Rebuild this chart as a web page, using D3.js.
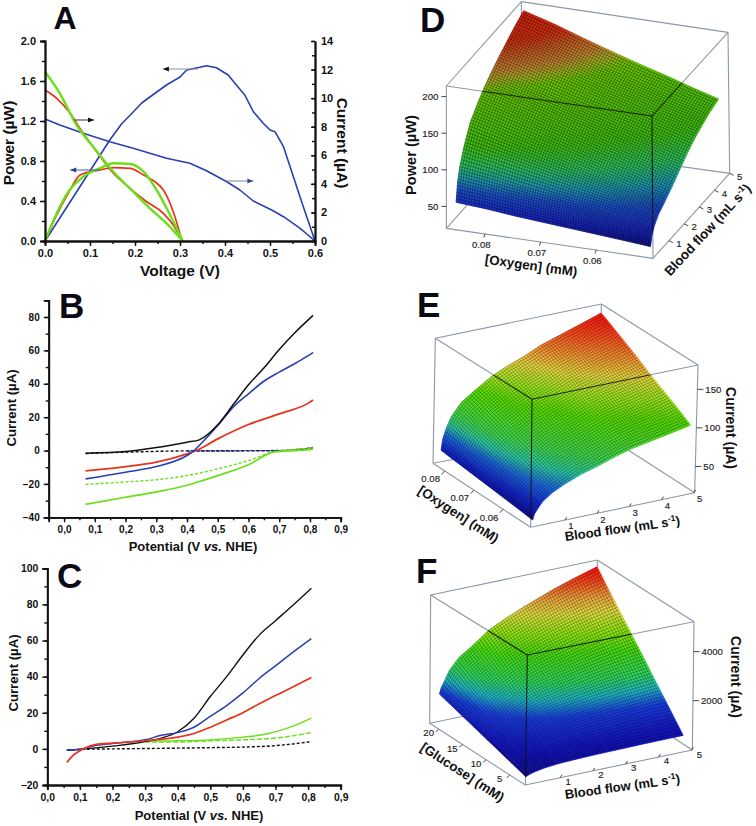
<!DOCTYPE html>
<html><head><meta charset="utf-8">
<script src="https://cdn.jsdelivr.net/npm/d3@7/dist/d3.min.js"></script>
<style>html,body{margin:0;padding:0;background:#fff}svg{display:block}text{font-family:"Liberation Sans",Arial,sans-serif}</style>
</head><body><svg id="c" width="756" height="826"></svg>
<script>
// ---- Panel A (voltage V, power uW / current uA) ----
const aPowerBlue=[[0,0],[.05,.35],[.1,.7],[.144,1.01],[.17,1.17],[.196,1.29],[.215,1.38],[.233,1.44],[.27,1.56],[.3,1.64],[.315,1.71],[.344,1.737],[.359,1.753],[.381,1.733],[.407,1.66],[.422,1.577],[.444,1.46],[.463,1.293],[.485,1.177],[.5,1.11],[.511,1.093],[.53,.943],[.552,.643],[.574,.343],[.6,0]];
const aCurrentBlue=[[0,8.54],[.033,8.12],[.085,7.54],[.144,6.95],[.196,6.49],[.27,5.79],[.322,5.44],[.359,4.92],[.404,4.15],[.433,3.57],[.463,2.8],[.507,2.12],[.53,1.7],[.567,.89],[.6,0]];
const aCurrentRed=[[0,10.57],[.026,9.99],[.056,8.94],[.085,7.54],[.115,6.25],[.152,4.74],[.189,3.69],[.226,2.75],[.263,1.94],[.285,1.12],[.304,.07]];
const aCurrentGreen=[[0,11.85],[.033,10.34],[.07,8.12],[.107,6.6],[.152,4.85],[.196,3.45],[.233,2.29],[.27,1.24],[.306,0]];
const aPowerRed=[[0,0],[.026,.26],[.052,.48],[.078,.66],[.122,.71],[.152,.733],[.189,.727],[.219,.66],[.244,.593],[.263,.51],[.281,.343],[.304,.01]];
const aPowerGreen=[[0,0],[.026,.277],[.052,.493],[.085,.643],[.122,.727],[.152,.777],[.189,.77],[.219,.693],[.248,.51],[.278,.26],[.306,0]];
// arrows: tip voltage, tail voltage, power level, head colour, shaft colour
const aArrows=[[.262,.34,1.72,'#111','#8a93a0'],[.109,.065,1.21,'#111','#333'],[.056,.122,.71,'#2a3a9a','#4a5ab0'],[.463,.404,.6,'#3a4a8a','#7a8aa0']];
// ---- Panel B (potential V, current uA) ----
const bBlack=[[.07,-1.6],[.2,-.6],[.3,1.8],[.4,5],[.44,6.4],[.5,15.4],[.55,27.4],[.6,39.4],[.65,49.4],[.7,60.5],[.75,70.4],[.81,81]];
const bBlue=[[.07,-17],[.2,-13],[.3,-9.6],[.4,-3],[.42,-.5],[.45,5],[.5,15],[.55,26],[.6,34],[.65,41.5],[.7,47],[.75,52],[.81,58.7]];
const bRed=[[.07,-12.2],[.2,-9.7],[.3,-7],[.4,-2],[.43,0],[.5,7],[.6,15.6],[.7,22],[.8,29],[.81,30.3]];
const bGreen=[[.07,-32.3],[.2,-28],[.3,-24.8],[.4,-20.8],[.45,-18],[.5,-15],[.6,-8.5],[.68,-1],[.7,-.5],[.8,.5],[.81,1]];
const bGreenDash=[[.07,-20.3],[.2,-18.8],[.3,-17.5],[.4,-15],[.5,-11],[.6,-6],[.67,-1.5],[.7,-.5],[.81,1.5]];
const bBlackDash=[[.07,-1.8],[.2,-1],[.3,-.5],[.4,-.2],[.7,0],[.81,1.5]];
const bBlueDash=[[.4,-.3],[.7,-.1],[.81,1.8]];
// ---- Panel C ----
const cBlack=[[.06,-.8],[.1,-.3],[.2,1.5],[.3,4],[.35,6],[.4,9.5],[.45,17],[.5,29],[.55,40],[.6,52],[.65,63],[.7,71],[.75,79],[.81,89]];
const cBlue=[[.06,-.6],[.1,-.2],[.15,2],[.2,3],[.3,5],[.35,7.5],[.4,9],[.45,12],[.5,18],[.55,24],[.6,31],[.65,39],[.7,46],[.75,53],[.81,61]];
const cRed=[[.06,-7.5],[.08,-3.5],[.1,-1],[.13,1.5],[.15,2.5],[.2,3.2],[.3,4.5],[.4,6.5],[.45,8.5],[.5,12],[.55,16],[.6,20],[.65,25],[.7,29.5],[.75,34],[.81,39.5]];
const cGreen=[[.28,4.5],[.3,4.3],[.4,4.5],[.5,5],[.6,6.5],[.68,8.5],[.72,10.5],[.76,13],[.81,17]];
const cGreenDash=[[.3,3.8],[.4,3.8],[.5,4.5],[.6,5],[.7,6],[.81,9]];
const cBlackDash=[[.06,-.6],[.1,-.3],[.2,0],[.3,.2],[.4,.4],[.5,.7],[.6,1],[.7,1.8],[.81,4]];
// ---- Panel D surface: rows by blood flow, columns by oxygen ----
const dFlow=[.05,.15,.3,.6,1,1.5,2,2.5,3,3.5,4,4.6];
const dOxygen=[.0855,.08,.075,.07,.065,.06,.055,.0505];
const dPower=[[55,52,48,45,42,39,36,33],[80,75,70,65,60,55,50,46],[98,92,85,79,73,67,61,55],[120,112,104,96,88,80,72,65],[142,131,121,111,101,91,81,72],[157,146,135,124,113,103,92,82],[170,158,147,136,125,114,103,93],[180,168,157,146,136,125,114,104],[189,178,167,156,145,134,123,113],[197,186,175,163,152,141,130,120],[205,193,181,169,158,147,136,126],[213,201,188,176,164,153,141,131]];
const dStops=[30,50,70,85,100,120,165,172,178,190,196,214];
const dColors=['#10108a','#1a28c8','#1c50d0','#1f9ab0','#2ec060','#40c010','#68c800','#a0b020','#c08830','#c85020','#d03010','#d02008'];
// ---- Panel E surface ----
const eFlow=[0,.05,.15,.3,.6,1,1.5,2,2.5,3,3.5,4,4.5,4.85];
const eOxygen=[.082,.08,.075,.07,.065,.06,.055,.0505];
const eCurrent=[[38,37,35,33,31,29,27,25],[53,52,49,45,42,39,35,32],[66,65,60,56,51,47,42,38],[80,78,73,67,62,57,51,46],[96,94,87,81,74,68,61,55],[108,106,99,91,84,77,70,63],[122,119,111,103,95,87,79,71],[132,129,120,112,103,94,85,77],[140,137,128,119,110,101,92,84],[150,147,137,128,118,109,99,90],[157,154,144,134,124,114,104,94],[164,161,150,140,129,118,108,98],[171,168,156,145,134,123,112,102],[176,172,161,150,138,127,116,105]];
const eStops=[25,42,58,70,82,108,122,135,148,160,172,178];
const eColors=['#0e0ea0','#1428d8','#1c68e0','#2cc8a8','#40d850','#58e000','#a0e820','#e8d840','#f89030','#ff5020','#ff2010','#ff1808'];
// ---- Panel F surface ----
const fFlow=[0,.05,.15,.3,.6,1,1.5,2,2.5,3,3.5,4,4.5,4.79];
const fGlucose=[20.3,17.5,15,12.5,10,7.5,5,2];
const fCurrent=[[1360,1190,1041,890,740,590,440,260],[1600,1399,1223,1045,867,690,513,300],[1850,1618,1415,1210,1004,800,596,350],[2250,1963,1714,1460,1207,955,703,400],[2700,2354,2053,1748,1442,1139,836,470],[3050,2658,2316,1970,1623,1279,935,520],[3560,3093,2687,2275,1862,1453,1044,550],[3880,3367,2920,2467,2013,1563,1113,570],[4170,3614,3129,2637,2145,1657,1169,580],[4430,3835,3316,2790,2264,1742,1220,590],[4680,4048,3497,2938,2379,1824,1269,600],[4900,4234,3655,3066,2478,1894,1309,605],[5100,4404,3798,3183,2568,1957,1346,610],[5210,4497,3875,3246,2617,1991,1366,612]];
const fStops=[260,800,1500,1900,2300,3000,3500,4000,4400,4800,5100,5220];
const fColors=['#0e0ea0','#1414c8','#1a40e8','#20b8c8','#30d860','#48e010','#90e810','#e0e040','#f0a840','#f85020','#ff2010','#ff1810'];

const svg=d3.select('#c');
const BLUE='#2a3fb0',RED='#e8331a',GREEN='#6be01a',BLACK='#111';

function letter(t,x,y,s){svg.append('text').attr('x',x).attr('y',y).attr('font-size',s).attr('font-weight','bold').attr('fill','#0a0a14').text(t);}
function label(t,x,y,s,rot){
 const n=svg.append('text').attr('transform',`translate(${x},${y}) rotate(${rot})`).attr('text-anchor','middle').attr('font-size',s).attr('font-weight','bold').attr('fill','#111');
 (Array.isArray(t)?t:[t]).forEach(p=>{ if(typeof p==='string')n.append('tspan').text(p); else {const sp=n.append('tspan').text(p.t); if(p.i)sp.attr('font-style','italic'); if(p.sup)sp.attr('dy',-5).attr('font-size',s*.65); if(p.back)sp.attr('dy',5);} });
}
function styleAxis(g,fs){g.selectAll('path,line').attr('stroke','#111').attr('stroke-width',1.4);g.selectAll('path').attr('stroke-width',1.8);
 g.selectAll('text').attr('font-size',fs).attr('font-weight','bold').attr('fill','#111').attr('font-family','"Liberation Sans",Arial,sans-serif');}
function draw(g,data,x,y,col,w,dash,curve){g.append('path').datum(data).attr('fill','none').attr('stroke',col).attr('stroke-width',w).attr('stroke-linejoin','round').attr('stroke-dasharray',dash||null).attr('d',d3.line().x(d=>x(d[0])).y(d=>y(d[1])).curve(curve||d3.curveMonotoneX));}

// ---------- Panel A ----------
(function(){
 const x=d3.scaleLinear([0,.6],[45,315]),yP=d3.scaleLinear([0,2],[241,41]),yI=d3.scaleLinear([0,14],[241,41]);
 const g=svg.append('g');
 [[aPowerBlue,yP,BLUE,1.6,d3.curveLinear],[aCurrentBlue,yI,BLUE,1.6,d3.curveLinear],[aCurrentRed,yI,RED,1.7],[aPowerRed,yP,RED,1.7],[aPowerGreen,yP,GREEN,2.4],[aCurrentGreen,yI,GREEN,2.4]].forEach(s=>draw(g,s[0],x,s[1],s[2],s[3],null,s[4]));
 const mk=(sel,ax,fs)=>{const a=sel.call(ax);styleAxis(a,fs);return a;};
 mk(svg.append('g').attr('transform','translate(45,0)'),d3.axisLeft(yP).tickValues(d3.range(0,2.01,.2)).tickSizeOuter(0).tickSize(3).tickFormat(''),11);
 mk(svg.append('g').attr('transform','translate(45,0)'),d3.axisLeft(yP).tickValues(d3.range(0,2.01,.4)).tickSizeOuter(0).tickSize(5).tickPadding(4).tickFormat(d3.format('.1f')),11);
 mk(svg.append('g').attr('transform','translate(315,0)'),d3.axisRight(yI).tickValues(d3.range(0,14.1,1)).tickSizeOuter(0).tickSizeInner(-3).tickFormat(''),11);
 mk(svg.append('g').attr('transform','translate(315,0)'),d3.axisRight(yI).tickValues(d3.range(0,14.1,2)).tickSizeOuter(0).tickSizeInner(-4).tickPadding(6).tickFormat(d3.format('d')),11);
 mk(svg.append('g').attr('transform','translate(0,241)'),d3.axisBottom(x).tickValues(d3.range(0,.601,.05)).tickSizeOuter(0).tickSize(3).tickFormat(''),11);
 mk(svg.append('g').attr('transform','translate(0,241)'),d3.axisBottom(x).tickValues(d3.range(0,.601,.1)).tickSizeOuter(0).tickSize(5).tickPadding(3).tickFormat(d3.format('.1f')),11);
 aArrows.forEach(r=>{const tip=x(r[0]),tail=x(r[1]),yy=yP(r[2]),dir=Math.sign(tail-tip);
  svg.append('line').attr('x1',tip).attr('x2',tail).attr('y1',yy).attr('y2',yy).attr('stroke',r[4]).attr('stroke-width',1);
  svg.append('path').attr('d',`M${tip},${yy}l${dir*6},-2.4v4.8z`).attr('fill',r[3]);});
 letter('A',53.5,29,32);
 label('Voltage (V)',180,276,15.5,0);
 label('Power (µW)',13.5,143,15.5,-90);
 label('Current (µA)',337,143,15.5,90);
})();

// ---------- Panels B, C ----------
function echem(x,y,yMajor,yMinor,xStart,series,xt,xlabY,yl,fs){
 const g=svg.append('g');
 series.forEach(s=>draw(g,s[0],x,y,s[1],s[2],s[3]));
 const fmt=d=>d3.format('.1f')(d).replace('.',',');
 const left=x.range()[0],bot=y.range()[0];
 const mk=(sel,ax)=>{const a=sel.call(ax);styleAxis(a,fs);};
 mk(svg.append('g').attr('transform',`translate(${left},0)`),d3.axisLeft(y).tickValues(yMinor).tickSizeOuter(0).tickSize(3).tickFormat(''));
 mk(svg.append('g').attr('transform',`translate(${left},0)`),d3.axisLeft(y).tickValues(yMajor).tickSizeOuter(0).tickSize(5).tickPadding(4).tickFormat(d3.format('d')));
 mk(svg.append('g').attr('transform',`translate(0,${bot})`),d3.axisBottom(x).tickValues(d3.range(xStart,.901,.05)).tickSizeOuter(0).tickSize(3).tickFormat(''));
 mk(svg.append('g').attr('transform',`translate(0,${bot})`),d3.axisBottom(x).tickValues(d3.range(0,.901,.1)).tickSizeOuter(0).tickSize(5).tickPadding(4).tickFormat(fmt));
 label(['Potential (V ',{t:'vs.',i:1},' NHE)'],xt,xlabY,13,0);
 label('Current (µA)',yl[0],yl[1],13.2,-90);
}
echem(d3.scaleLinear([-.05,.9],[48.7,340.7]),d3.scaleLinear([-40,90],[517.3,300.3]),d3.range(-40,81,20),d3.range(-40,91,10),-.05,
 [[bBlackDash,BLACK,1.4,'3 2'],[bBlueDash,'#1a2a90',1.4,'3 2'],[bGreenDash,GREEN,1.4,'3 2'],[bGreen,GREEN,1.7],[bRed,RED,1.8],[bBlue,BLUE,1.6],[bBlack,BLACK,1.5]],193,551,[15.5,408],10);
echem(d3.scaleLinear([0,.9],[47.3,340.7]),d3.scaleLinear([-20,100],[785,568.3]),d3.range(-20,101,20),d3.range(-20,101,10),0,
 [[cBlackDash,BLACK,1.4,'3 2'],[cGreenDash,GREEN,1.5,'5 2'],[cGreen,GREEN,1.4],[cBlack,BLACK,1.4],[cBlue,BLUE,1.5],[cRed,RED,1.7]],199,820,[17.5,673],10.4);
letter('B',59,318,35);letter('C',57,588,35);

// ---------- 3D surfaces ----------
function surface(o){
 const id=o.id, P=o.box;
 const lerp=(a,b,s)=>[a[0]+(b[0]-a[0])*s,a[1]+(b[1]-a[1])*s];
 const tS=d3.scaleLinear(o.concDomain,[0,1]),fS=d3.scaleLinear(o.flowDomain,[0,1]),hS=d3.scaleLinear(o.zDomain,[0,1]);
 const prj=(c,fl,z)=>{const t=tS(c),f=fS(fl),h=hS(z);
  const b=lerp(lerp(P.b00,P.b01,f),lerp(P.b10,P.b11,f),t),u=lerp(lerp(P.t00,P.t01,f),lerp(P.t10,P.t11,f),t);return lerp(b,u,h);};
 const col=d3.scaleLinear().domain(o.stops).range(o.colors).interpolate(d3.interpolateRgb).clamp(true);
 const line=(a,b,c,w)=>svg.append('line').attr('x1',a[0]).attr('y1',a[1]).attr('x2',b[0]).attr('y2',b[1]).attr('stroke',c).attr('stroke-width',w);
 const GREY='#8c98a4';
 [['b00','b10'],['b10','b11'],['b11','b01'],['b01','b00'],['t00','t10'],['t10','t11'],['t11','t01'],['t01','t00'],['b00','t00'],['b10','t10'],['b11','t11'],['b01','t01']].forEach(e=>line(P[e[0]],P[e[1]],GREY,1.1));
 const pts=o.flow.map((fl,i)=>o.conc.map((c,j)=>prj(c,fl,o.values[i][j])));
 const zs=o.values;
 const defs=svg.append('defs'),sg=svg.append('g');
 const nLev=9;
 for(let i=0;i<pts.length-1;i++)for(let j=0;j<pts[0].length-1;j++){
  const a=pts[i][j],b=pts[i][j+1],c=pts[i+1][j+1],d=pts[i+1][j];
  const za=zs[i][j],zb=zs[i][j+1],zc=zs[i+1][j+1],zd=zs[i+1][j];
  const e1=[(b[0]-a[0]+c[0]-d[0])/2,(b[1]-a[1]+c[1]-d[1])/2],dz1=(zb-za+zc-zd)/2;
  const e2=[(d[0]-a[0]+c[0]-b[0])/2,(d[1]-a[1]+c[1]-b[1])/2],dz2=(zd-za+zc-zb)/2;
  const det=e1[0]*e2[1]-e1[1]*e2[0];
  const gx=(dz1*e2[1]-dz2*e1[1])/det,gy=(e1[0]*dz2-e2[0]*dz1)/det,m=gx*gx+gy*gy;
  const cx=(a[0]+b[0]+c[0]+d[0])/4,cy=(a[1]+b[1]+c[1]+d[1])/4,zm=(za+zb+zc+zd)/4,zl=Math.min(za,zb,zc,zd),zh=Math.max(za,zb,zc,zd);
  const gid=`${id}g${i}_${j}`;
  const lg=defs.append('linearGradient').attr('id',gid).attr('gradientUnits','userSpaceOnUse')
   .attr('x1',cx+gx*(zl-zm)/m).attr('y1',cy+gy*(zl-zm)/m).attr('x2',cx+gx*(zh-zm)/m).attr('y2',cy+gy*(zh-zm)/m);
  d3.range(nLev).forEach(k=>{const s=k/(nLev-1);lg.append('stop').attr('offset',s).attr('stop-color',col(zl+(zh-zl)*s));});
  sg.append('path').attr('d',`M${a}L${b}L${c}L${d}Z`).attr('fill',`url(#${gid})`).attr('stroke',`url(#${gid})`).attr('stroke-width',.7);
 }
 let mesh='';const SP=2.7;
 for(let i=0;i<pts.length-1;i++){
  const len=d3.mean(pts[i],(p,j)=>Math.hypot(pts[i+1][j][0]-p[0],pts[i+1][j][1]-p[1])),n=Math.max(1,Math.round(len/SP));
  for(let k=0;k<n;k++){pts[i].forEach((p,j)=>{const q=lerp(p,pts[i+1][j],k/n);mesh+=(j?'L':'M')+q[0].toFixed(1)+','+q[1].toFixed(1);});}
 }
 for(let j=0;j<pts[0].length-1;j++){
  const len=d3.mean(pts,r=>Math.hypot(r[j+1][0]-r[j][0],r[j+1][1]-r[j][1])),n=Math.max(1,Math.round(len/SP));
  for(let k=0;k<n;k++){pts.forEach((r,i)=>{const q=lerp(r[j],r[j+1],k/n);mesh+=(i?'L':'M')+q[0].toFixed(1)+','+q[1].toFixed(1);});}
 }
 sg.append('path').attr('d',mesh).attr('fill','none').attr('stroke','#000').attr('stroke-opacity',o.meshOp).attr('stroke-width',.8);
 let outline='M'+pts[0].join('L');pts.slice(1).forEach(r=>outline+='L'+r[r.length-1]);
 outline+='L'+pts[pts.length-1].slice().reverse().join('L');pts.slice().reverse().forEach(r=>outline+='L'+r[0]);outline+='Z';
 svg.append('clipPath').attr('id',id+'clip').append('path').attr('d',outline);
 const fg=svg.append('g').attr('clip-path',`url(#${id}clip)`);
 o.front.forEach(e=>fg.append('line').attr('x1',P[e[0]][0]).attr('y1',P[e[0]][1]).attr('x2',P[e[1]][0]).attr('y2',P[e[1]][1]).attr('stroke','#101010').attr('stroke-width',1.1).attr('stroke-opacity',.85));
 const tick=(p,dx,dy,txt,lx,ly,anc)=>{line(p,[p[0]+dx,p[1]+dy],'#333',.9);
  svg.append('text').attr('x',p[0]+lx).attr('y',p[1]+ly).attr('dy','.35em').attr('text-anchor',anc||'middle').attr('font-size',9.6).attr('fill','#222').attr('stroke','#222').attr('stroke-width',.15).text(txt);};
 o.zTicks.forEach(z=>{const p=lerp(P['b'+o.zEdge],P['t'+o.zEdge],hS(z));tick(p,o.zTick[0],o.zTick[1],z,o.zTick[2],o.zTick[3],o.zTick[4]);});
 o.concTicks.forEach((c,i)=>{const p=lerp(P.b00,P.b10,tS(c));tick(p,o.concTick[0],o.concTick[1],o.concLabels[i],o.concTick[2],o.concTick[3]);});
 o.flowTicks.forEach(f=>{const p=lerp(P[o.flowEdge[0]],P[o.flowEdge[1]],fS(f));tick(p,o.flowTick[0],o.flowTick[1],f,o.flowTick[2],o.flowTick[3]);});
}
const Z=(x,y,ox,oy)=>[ox+x/3,oy+y/3];
const flowTitle=['Blood flow (mL s',{t:'-1',sup:1},{t:')',back:1}];
surface({id:'d',flow:dFlow,conc:dOxygen,values:dPower,stops:dStops,colors:dColors,meshOp:.42,
 concDomain:[.087,.0498],flowDomain:[-.05,5],zDomain:[20,214.5],
 box:{b00:Z(205,685,378,0),b10:Z(825,775,378,0),b01:Z(430,432,378,0),b11:Z(1055,520,378,0),t00:Z(205,258,378,0),t10:Z(822,348,378,0),t01:Z(430,5,378,0),t11:Z(1050,97,378,0)},
 front:[['t00','t10'],['t10','t11'],['t10','b10']],
 zEdge:'00',zTicks:[50,100,150,200],zTick:[-5,0,-8,0,'end'],
 concTicks:[.08,.07,.06],concLabels:['0.08','0.07','0.06'],concTick:[-1.5,3.5,-4,11],
 flowEdge:['b10','b11'],flowTicks:[1,2,3,4,5],flowTick:[4,2,10,3]});
surface({id:'e',flow:eFlow,conc:eOxygen,values:eCurrent,stops:eStops,colors:eColors,meshOp:.34,
 concDomain:[.0505,.084],flowDomain:[-.06,5.03],zDomain:[16,181.5],
 box:{b00:Z(458,712,378,290),b10:Z(165,520,378,290),b01:Z(950,608,378,290),b11:Z(665,425,378,290),t00:Z(462,328,378,290),t10:Z(172,145,378,290),t01:Z(960,225,378,290),t11:Z(670,42,378,290)},
 front:[['t10','t00'],['t00','t01'],['t00','b00']],
 zEdge:'01',zTicks:[50,100,150],zTick:[6,0,8,0,'start'],
 concTicks:[.08,.07,.06],concLabels:['0.08','0.07','0.06'],concTick:[-3,3.5,-14,8],
 flowEdge:['b00','b01'],flowTicks:[1,2,3,4,5],flowTick:[2,-3,6,6]});
surface({id:'f',flow:fFlow,conc:fGlucose,values:fCurrent,stops:fStops,colors:fColors,meshOp:.34,
 concDomain:[1.7,21.9],flowDomain:[-.06,5.03],zDomain:[-14,5224],
 box:{b00:Z(442,705,378,550),b10:Z(155,520,378,550),b01:Z(943,600,378,550),b11:Z(655,415,378,550),t00:Z(448,315,378,550),t10:Z(158,135,378,550),t01:Z(948,215,378,550),t11:Z(658,30,378,550)},
 front:[['t10','t00'],['t00','t01'],['t00','b00']],
 zEdge:'01',zTicks:[2000,4000],zTick:[6,0,8,0,'start'],
 concTicks:[20,15,10,5],concLabels:['20','15','10','5'],concTick:[-3,3,-10,4],
 flowEdge:['b00','b01'],flowTicks:[1,2,3,4,5],flowTick:[2,-3,8,4]});
letter('D',420,32,35);letter('E',417,317,35);letter('F',416,583,35);
label('Power (µW)',416,155,14.6,-90);
label('[Oxygen] (mM)',530.5,270,13.3,8);
label(flowTitle,711,233,13.4,-47);
label('[Oxygen] (mM)',456,518,13.3,33);
label(flowTitle,623,533,13,-8);
label('Current (µA)',726,428,14,90);
label('[Glucose] (mM)',460,776,13.3,33);
label(flowTitle,623,791,13,-8);
label('Current (µA)',731,677,14,90);
</script></body></html>
